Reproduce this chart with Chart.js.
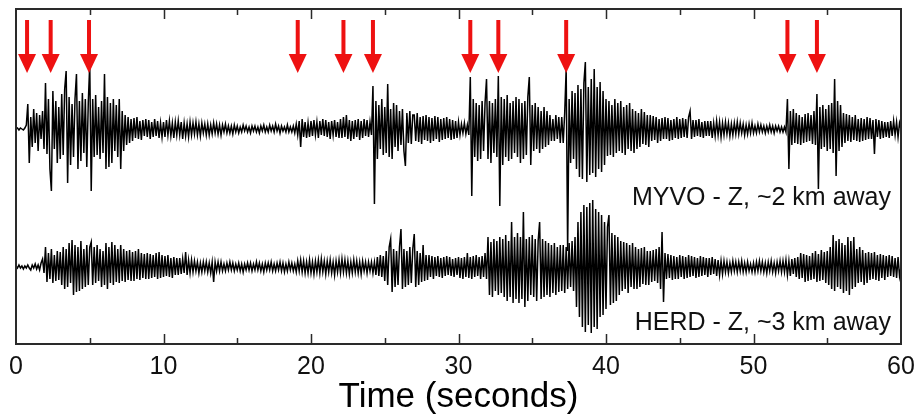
<!DOCTYPE html>
<html>
<head>
<meta charset="utf-8">
<script src="https://cdn.jsdelivr.net/npm/chart.js@4/dist/chart.umd.min.js"></script>
<style>
  html, body { margin: 0; padding: 0; background: #fff; }
  canvas { display: block; }
</style>
</head>
<body>
<canvas id="seis" width="918" height="414"></canvas>
<script>
// samples every 0.1 s, one row per second
const sampleStep = 0.1;

const myvo = [
  0, 1, -1, 1, 0, -1, 1, 4, 25, -34,
  12, -18, 20, -14, 16, -22, 14, -10, 18, -20,
  46, -25, 30, -40, -62, 38, -20, 28, -34, 22,
  -30, 35, -26, 40, 58, -54, 32, -36, 25, -28,
  30, 55, -40, 28, -32, 36, -24, 30, -38, 26,
  65, -62, 30, -28, 34, -26, 22, -30, 28, -24,
  55, -40, 32, -38, 26, -34, 30, -22, 24, -28,
  30, -40, 18, -22, 14, -16, 12, -14, 10, -12,
  11, -9, 12, -10, 8, -11, 9, -7, 10, -8,
  9, -10, 7, -8, 10, -7, 8, -9, 6, -8,
  7, -8, 9, -6, 8, -7, 6, -9, 7, -6,
  8, -6, 7, -10, 6, -7, 5, -8, 7, -6,
  6, -5, 7, -6, 5, -7, 6, -4, 5, -6,
  5, -6, 4, -5, 6, -4, 5, -5, 4, -6,
  4, -3, 5, -4, 3, -4, 3, -5, 4, -3,
  3, -4, 2, -3, 4, -2, 3, -3, 2, -4,
  3, -2, 3, -3, 2, -4, 3, -2, 4, -3,
  2, -3, 4, -2, 3, -3, 5, -2, 3, -4,
  3, -2, 2, -3, 4, -3, 2, -3, 3, -4,
  5, -6, 8, -18, 10, -8, 7, -9, 6, -8,
  8, -7, 9, -6, 7, -9, 8, -6, 10, -7,
  9, -8, 7, -10, 8, -6, 9, -8, 7, -9,
  10, -9, 12, -8, 14, -10, 9, -12, 8, -10,
  9, -8, 10, -11, 8, -9, 10, -7, 9, -8,
  7, -6, 43, -75, 28, -30, 24, -20, 30, -26,
  22, -24, 45, -28, 20, -30, 26, -18, 24, -22,
  18, -16, 20, -22, -37, 16, -14, 18, -15, 14,
  14, -12, 16, -13, 12, -15, 13, -11, 14, -12,
  12, -14, 11, -12, 13, -10, 12, -13, 10, -11,
  11, -10, 12, -9, 10, -11, 9, -10, 8, -9,
  7, -6, 5, -4, 6, -5, 4, -6, 52, -67,
  30, -28, 26, -32, 24, -30, 28, -22, 26, 50,
  -30, 28, -34, 26, -24, 30, -28, 53, -77, 32,
  -36, 30, -28, 34, -32, 26, -30, 28, -24, 32,
  -28, 30, -34, 26, -30, 28, -26, 32, 52, -36,
  24, -22, 26, -20, 22, -24, 18, -20, 22, -18,
  18, -16, 14, -12, 10, -12, 14, -10, 12, -14,
  12, -14, 16, 60, -122, 30, -34, 38, -30, 36,
  -40, 44, -48, 40, -50, 46, 67, -53, 42, -46,
  50, -44, 60, -48, 42, -40, 47, -43, 38, -36,
  30, -27, 28, -26, 24, -28, 30, -24, 26, -22,
  28, -24, 22, -26, 24, -20, 26, -22, 20, -24,
  18, -20, 16, -18, 20, -15, 17, -16, 14, -18,
  14, -12, 13, -11, 12, -14, 10, -12, 11, -10,
  12, -10, 11, -12, 9, -11, 10, -9, 12, -10,
  10, -9, 11, -8, 10, -9, 12, 18, -10, 9,
  -8, 9, -7, 10, -8, 7, -9, 8, -7, 8,
  -7, 8, -9, 6, -7, 8, -6, 7, -8, 6,
  -6, 7, -5, 6, -7, 5, -6, 6, -5, 7,
  -5, 6, -4, 5, -6, 4, -5, 5, -4, 6,
  -4, 3, -4, 5, -3, 4, -3, 3, -4, 3,
  -3, 4, -3, 3, -4, 3, -2, 3, -3, 2,
  -3, 2, -3, 30, -40, 18, -16, 20, -14, 16,
  -15, 14, -16, 12, -14, 15, -13, 16, -12, 14,
  -15, 18, -16, 35, -60, 22, -20, 24, -18, 20,
  -22, 24, -20, 26, -24, 50, -47, 28, -22, 24,
  -18, 16, -14, 15, -12, 14, -13, 12, -11, 14,
  -12, 10, -13, 11, -12, 10, -11, 12, -10, 11,
  -10, 9, -25, 10, -8, 9, -10, 8, -9, 7,
  -8, 7, -9, 8, -7, 8, -6, 7, -8, 6,
  0
];

const herd = [
  1, -1, 2, -1, 1, -2, 1, -1, 2, -1,
  -3, 2, -1, 3, -2, 2, -3, 4, 8, -6,
  20, -15, 14, -12, 18, -16, 12, -14, 16, -13,
  15, -18, 20, -22, 18, -20, 24, -16, 27, -28,
  22, -25, 20, -24, 26, -22, 18, -20, 22, -18,
  20, 25, -18, 20, -16, 22, -14, 18, -20, 16,
  -18, 24, -22, 20, -16, 25, -18, 22, -15, 18,
  -16, 22, -14, 18, -15, 16, -13, 17, -14, 15,
  -14, 16, -12, 18, -13, 14, -11, 13, -12, 14,
  -12, 13, -11, 12, -10, 14, -12, 15, -11, 12,
  -10, 11, -9, 12, -10, 9, -11, 10, -8, 9,
  -8, 9, -7, 8, -6, 15, -8, 7, -6, 7,
  -5, 6, -4, 5, -6, 4, -5, 5, -4, 5,
  -5, 4, -6, 5, -15, 5, -4, 5, -4, 5,
  -4, 3, -4, 4, -3, 5, -3, 4, -4, 3,
  -3, 4, -4, 3, -5, 3, -3, 4, -3, 4,
  -4, 3, -3, 5, -3, 4, -4, 3, -5, 4,
  -3, 4, -3, 5, -4, 3, -4, 4, -3, 5,
  -4, 4, -5, 3, -4, 5, -3, 4, -4, 3,
  -5, 6, -4, 7, -5, 6, -6, 5, -6, 7,
  -6, 5, -7, 6, -5, 7, -6, 8, -5, 6,
  -7, 6, -5, 7, -6, 5, -8, 6, -5, 7,
  -6, 8, -5, 7, -6, 6, -7, 5, -6, 7,
  -5, 6, -6, 5, -7, 6, -4, 5, -6, 5,
  -4, 5, -6, 5, -8, 10, -9, 12, -10, 11,
  -14, 16, -18, 20, 28, -25, 18, -20, 16, -18,
  20, 38, -22, 18, -20, 16, -18, 20, -16, 18,
  33, -20, 16, -18, 14, -15, 22, -14, 12, -13,
  12, -10, 11, -12, 10, -9, 11, -10, 9, -11,
  10, -9, 11, -8, 10, -9, 8, -10, 9, -8,
  10, -11, 9, -12, 10, -10, 14, -11, 10, -12,
  11, -10, 12, -9, 10, -12, 11, -10, 14, -12,
  30, -28, 25, -30, 28, -24, 26, -28, 30, -26,
  28, -30, 32, -34, 26, -30, 45, -36, 30, -32,
  34, -36, 30, -32, 55, -40, 28, -34, 30, -28,
  32, -30, 28, -34, 26, 45, -32, 28, -30, 26,
  -28, 24, -30, 22, -26, 24, -28, 20, -25, 22,
  -24, 22, -26, 20, -22, 24, -20, 26, -24, 30,
  -40, 45, -50, 55, -60, 62, -65, 60, -58, 64,
  -66, 67, -60, 58, -62, 55, -50, 52, -48, 45,
  -42, 40, 52, -38, 34, -36, 32, -34, 30, -28,
  26, -24, 25, -22, 24, -26, 22, -20, 24, -22,
  20, -22, 18, -20, 19, -17, 20, -18, 16, -18,
  16, -15, 17, -14, 18, -16, 20, -22, 35, -35,
  14, -12, 13, -11, 12, -13, 11, -12, 10, -12,
  12, -10, 11, -12, 10, -11, 12, -10, 11, -9,
  10, -11, 9, -10, 11, -9, 10, -8, 9, -10,
  9, -8, 10, -7, 8, -9, 7, -8, 6, -7,
  6, -5, 5, -6, 4, -5, 6, -4, 5, -5,
  5, -4, 6, -5, 4, -5, 5, -4, 3, -5,
  4, -5, 5, -4, 6, -4, 5, -5, 4, -6,
  5, -4, 6, -5, 4, -6, 5, -4, 6, -5,
  6, -5, 7, -8, 6, -9, 8, -7, 9, -10,
  10, -12, 14, -11, 13, -15, 12, -14, 11, -13,
  14, -12, 16, -15, 13, -14, 17, -13, 15, -16,
  16, -18, 20, -22, 32, -24, 26, -20, 28, -22,
  24, -26, 22, -24, 30, -28, 26, -22, 30, -20,
  18, -16, 20, -15, 17, -18, 14, -16, 15, -13,
  14, -12, 15, -13, 12, -14, 13, -11, 12, -13,
  11, -10, 12, -9, 11, -10, 9, -11, 10, -9,
  0
];

// picked event times (red arrows), seconds
const eventTimes = [0.75, 2.35, 4.95, 19.1, 22.2, 24.2, 30.8, 32.7, 37.3, 52.3, 54.3];

const stationLabels = ['MYVO - Z, ~2 km away', 'HERD - Z, ~3 km away'];
const xTicks = [0, 10, 20, 30, 40, 50, 60];

const MYVO_OFFSET = 138;
const HERD_OFFSET = 0;
const FONT = '"Liberation Sans", Arial, Helvetica, sans-serif';

function toPoints(vals, offset) {
  return vals.map((v, i) => ({ x: +(i * sampleStep).toFixed(1), y: v + offset }));
}

const framePlugin = {
  id: 'frame',
  afterDatasetsDraw(chart) {
    const { ctx, chartArea: a, scales } = chart;
    const xs = scales.x, ys = scales.y;
    ctx.save();

    // box
    ctx.strokeStyle = '#2a2a2a';
    ctx.lineWidth = 2;
    ctx.strokeRect(a.left, a.top, a.right - a.left, a.bottom - a.top);

    // inward ticks every 5 s, top and bottom
    ctx.lineWidth = 1.5;
    for (let t = 5; t < 60; t += 5) {
      const px = Math.round(xs.getPixelForValue(t)) + 0.5;
      const len = t % 10 === 0 ? 10 : 6;
      ctx.beginPath();
      ctx.moveTo(px, a.bottom);
      ctx.lineTo(px, a.bottom - len);
      ctx.moveTo(px, a.top);
      ctx.lineTo(px, a.top + len);
      ctx.stroke();
    }

    // arrows
    ctx.fillStyle = '#ee1111';
    eventTimes.forEach(t => {
      const px = xs.getPixelForValue(t);
      const y0 = a.top + 11, y1 = a.top + 45, y2 = a.top + 64;
      ctx.fillRect(px - 2, y0, 4, y1 - y0 + 1);
      ctx.beginPath();
      ctx.moveTo(px - 9, y1);
      ctx.lineTo(px + 9, y1);
      ctx.lineTo(px, y2);
      ctx.closePath();
      ctx.fill();
    });

    // station labels
    ctx.fillStyle = '#111';
    ctx.font = '25px ' + FONT;
    ctx.textAlign = 'right';
    ctx.textBaseline = 'alphabetic';
    ctx.fillText(stationLabels[0], a.right - 10, ys.getPixelForValue(MYVO_OFFSET) + 76);
    ctx.fillText(stationLabels[1], a.right - 10, ys.getPixelForValue(HERD_OFFSET) + 63);
    ctx.restore();
  }
};

new Chart(document.getElementById('seis'), {
  type: 'line',
  data: {
    datasets: [
      { label: 'MYVO', data: toPoints(myvo, MYVO_OFFSET) },
      { label: 'HERD', data: toPoints(herd, HERD_OFFSET) }
    ].map(d => Object.assign(d, {
      borderColor: '#000',
      borderWidth: 1.5,
      pointRadius: 0,
      tension: 0,
      fill: false
    }))
  },
  options: {
    responsive: false,
    animation: false,
    layout: { padding: { top: 9, left: 16, right: 17, bottom: 0 } },
    plugins: { legend: { display: false }, tooltip: { enabled: false } },
    scales: {
      x: {
        type: 'linear',
        min: 0,
        max: 60,
        afterBuildTicks(s) { s.ticks = xTicks.map(v => ({ value: v })); },
        afterFit(s) {
          s.height = 70;
          s.paddingLeft = 0;
          s.paddingRight = 0;
        },
        grid: { display: false, drawTicks: false },
        border: { display: false },
        ticks: {
          color: '#111',
          padding: 8,
          maxRotation: 0,
          font: { family: FONT, size: 25 }
        },
        title: {
          display: true,
          text: 'Time (seconds)',
          color: '#000',
          font: { family: FONT, size: 35 },
          padding: { top: 0, bottom: -4 }
        }
      },
      y: { display: false, min: -77, max: 258 }
    }
  },
  plugins: [framePlugin]
});
</script>
</body>
</html>
